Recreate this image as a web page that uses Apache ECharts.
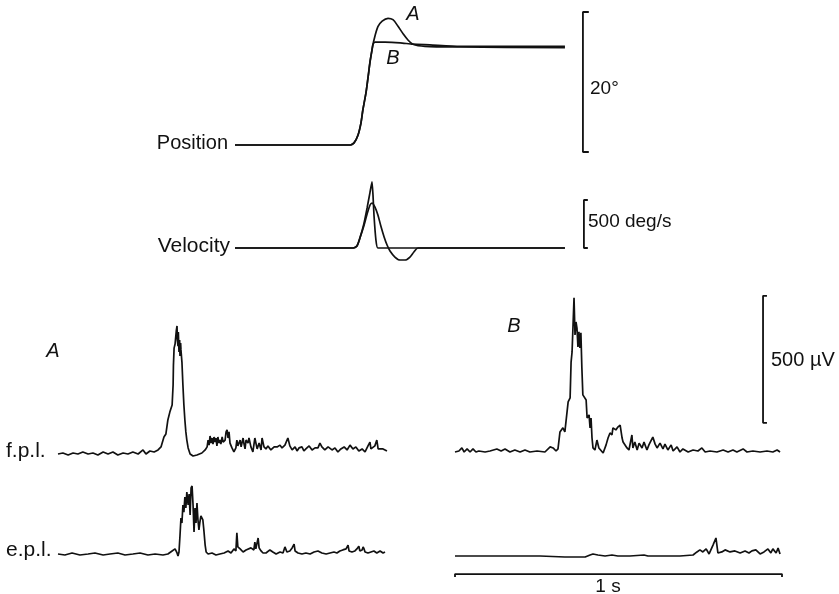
<!DOCTYPE html>
<html>
<head>
<meta charset="utf-8">
<script src="https://cdn.jsdelivr.net/npm/echarts@6/dist/echarts.min.js"></script>
<style>
  html, body { margin: 0; padding: 0; background: #fff; }
  #chart { width: 839px; height: 594px; }
</style>
</head>
<body>
<div id="chart"></div>
<script>
// Thumb movement (position, velocity) and rectified EMG of flexor (f.p.l.)
// and extensor (e.p.l.) pollicis longus for two movements, A and B.
// Time in ms from start of each sweep; angles in degrees; EMG in µV.

const positionA = [[0,0],[352,0],[364,0.3],[376,1.4],[385,3.1],[391,5],[401,7.6],[407,9.7],[413,11.9],[419,13.6],[425,15],[437,16.9],[450,17.7],[468,18.1],[483,17.9],[498,17],[514,15.9],[529,15],[544,14.4],[581,14.1],[688,14],[1009,13.9]];
const positionB = [[0,0],[352,0],[364,0.3],[376,1.4],[385,3.1],[391,5],[401,7.6],[407,9.7],[413,11.9],[419,13.6],[422,14.4],[428,14.7],[459,14.7],[505,14.6],[544,14.4],[596,14.3],[688,14.1],[1009,14.1]];

const velocityA = [[0,0],[361,0],[373,21],[382,104],[394,229],[404,354],[413,448],[419,469],[428,427],[437,344],[446,229],[456,115],[465,31],[474,-31],[489,-94],[505,-125],[520,-125],[535,-94],[547,-42],[560,0],[1009,0]];
const velocityB = [[0,0],[361,0],[373,21],[382,104],[394,250],[404,417],[413,583],[419,688],[422,552],[425,344],[431,83],[437,0],[1009,0]];

const fplA = [[0,-4],[15,0],[31,-8],[46,0],[61,-4],[76,4],[92,-4],[107,0],[122,-8],[138,4],[153,-4],[168,4],[183,-8],[199,0],[214,-4],[229,4],[245,-4],[260,12],[269,-4],[281,8],[294,4],[306,12],[315,24],[324,63],[330,75],[336,130],[342,161],[349,189],[352,268],[353,346],[355,413],[358,429],[361,425],[362,484],[364,500],[365,445],[367,421],[368,476],[370,398],[372,445],[373,382],[375,433],[376,406],[379,358],[382,268],[385,189],[388,130],[391,83],[394,51],[398,20],[404,-4],[413,-12],[425,-8],[440,0],[450,12],[456,24],[459,51],[462,31],[465,67],[468,39],[471,59],[474,35],[477,63],[480,43],[483,59],[486,28],[489,63],[492,39],[495,51],[498,35],[502,63],[505,43],[511,51],[514,83],[517,91],[520,59],[523,83],[526,39],[532,20],[538,4],[544,20],[547,51],[550,28],[557,51],[560,24],[566,59],[569,35],[572,16],[575,51],[581,39],[584,59],[590,24],[596,4],[602,59],[609,16],[615,39],[621,12],[624,59],[630,24],[636,16],[642,28],[651,12],[661,24],[670,24],[679,31],[685,20],[694,31],[703,59],[709,28],[716,12],[725,24],[731,8],[737,20],[746,24],[752,8],[758,16],[768,28],[777,12],[786,20],[795,20],[801,39],[807,24],[816,12],[826,24],[832,31],[838,12],[847,20],[856,4],[865,16],[875,24],[884,12],[893,31],[902,16],[911,24],[920,8],[930,16],[939,4],[948,28],[954,43],[957,16],[963,12],[969,28],[975,51],[979,16],[985,12],[994,16],[1006,8]];

const eplA = [[0,0],[21,-4],[43,4],[67,-4],[92,0],[113,4],[138,-4],[159,0],[183,4],[205,-4],[229,0],[251,4],[275,-4],[297,0],[321,-4],[336,0],[349,12],[358,20],[364,4],[367,-8],[370,8],[373,71],[376,142],[379,122],[382,193],[385,165],[388,224],[391,181],[394,244],[398,193],[401,236],[404,154],[407,260],[410,268],[413,193],[416,87],[419,181],[422,122],[425,201],[428,134],[431,95],[434,126],[437,150],[440,142],[443,134],[446,95],[450,35],[453,8],[459,0],[471,4],[483,-4],[495,0],[508,4],[520,12],[529,4],[538,20],[544,12],[547,83],[550,28],[557,20],[566,8],[575,16],[581,12],[590,24],[596,31],[599,16],[602,47],[605,20],[612,63],[615,24],[621,12],[627,4],[636,4],[648,16],[657,8],[667,0],[679,8],[688,4],[694,28],[700,8],[709,12],[716,24],[722,39],[725,12],[734,4],[746,0],[758,4],[771,0],[783,8],[795,12],[807,4],[820,0],[832,4],[844,8],[853,4],[862,12],[871,16],[881,20],[887,35],[890,12],[899,8],[908,12],[914,20],[920,31],[923,12],[930,16],[933,28],[936,20],[939,8],[948,4],[957,8],[966,12],[975,4],[985,12],[994,4],[1000,8]];

const fplB = [[0,0],[12,4],[21,16],[28,0],[37,12],[46,0],[55,12],[64,0],[73,4],[92,0],[107,4],[128,12],[141,4],[153,12],[168,0],[183,8],[199,0],[214,8],[229,0],[251,4],[275,0],[291,20],[300,16],[309,4],[315,12],[321,79],[330,95],[336,79],[346,197],[352,213],[355,354],[358,394],[361,500],[364,607],[367,461],[370,512],[373,488],[376,414],[379,473],[382,410],[385,469],[388,331],[391,225],[401,205],[404,134],[410,146],[413,95],[416,134],[419,55],[422,16],[428,8],[434,47],[440,16],[453,-4],[462,28],[468,55],[474,75],[480,67],[483,95],[492,87],[498,98],[505,106],[511,55],[514,39],[526,16],[532,8],[541,67],[544,16],[550,39],[557,8],[563,35],[572,16],[578,39],[587,8],[593,28],[605,59],[612,31],[618,16],[627,35],[636,12],[642,31],[651,8],[661,28],[667,4],[679,20],[688,0],[697,12],[713,0],[728,8],[743,4],[755,16],[765,0],[780,4],[801,0],[820,8],[835,0],[850,8],[862,0],[881,12],[893,0],[911,4],[933,0],[954,4],[972,0],[985,8],[994,0]];

const eplB = [[0,0],[76,0],[168,0],[260,0],[336,-4],[367,-4],[398,-4],[413,4],[422,8],[437,4],[459,0],[480,4],[498,0],[535,0],[578,4],[590,0],[642,0],[688,0],[728,4],[740,16],[749,24],[758,16],[768,28],[777,8],[789,43],[798,71],[804,12],[816,16],[826,24],[841,16],[856,20],[872,12],[887,20],[899,12],[908,20],[920,24],[933,8],[945,16],[957,28],[966,12],[972,28],[982,12],[988,31],[994,8]];

// Calibration bars: value and printed label
const scaleValues = [20, 500, 500, 1000];
const scaleLabels = ['20°', '500 deg/s', '500 µV', '1 s'];

// Trace and panel labels
const traceLabels = ['Position', 'Velocity', 'f.p.l.', 'e.p.l.'];
const movementLabels = ['A', 'B'];

const INK = '#111111';
const FONT = '"Liberation Sans", Arial, Helvetica, sans-serif';
const PX_PER_MS = 0.327;
const PX_PER_UV = 0.254;

// grid helper: x origin (t = 0) in pixels, baseline (value 0) in pixels, y scale, y range
function makeGrid(x0, base, pxPerUnit, ymin, ymax) {
  const xmin = -100, xmax = 1100;
  return {
    grid: {
      left: x0 + xmin * PX_PER_MS,
      width: (xmax - xmin) * PX_PER_MS,
      top: base - ymax * pxPerUnit,
      height: (ymax - ymin) * pxPerUnit
    },
    x: { min: xmin, max: xmax },
    y: { min: ymin, max: ymax }
  };
}

const panels = [
  makeGrid(235, 145, 7, -2, 20),            // position (deg)
  makeGrid(235, 248, 0.096, -200, 800),     // velocity (deg/s)
  makeGrid(58, 453, PX_PER_UV, -50, 650),   // A f.p.l.
  makeGrid(58, 554, PX_PER_UV, -50, 350),   // A e.p.l.
  makeGrid(455, 452, PX_PER_UV, -50, 650),  // B f.p.l.
  makeGrid(455, 556, PX_PER_UV, -120, 350)  // B e.p.l.
];

function trace(idx, data, width, smooth) {
  return {
    type: 'line', xAxisIndex: idx, yAxisIndex: idx, data: data,
    showSymbol: false, symbol: 'none', smooth: smooth || false,
    lineStyle: { color: INK, width: width || 1.7 },
    silent: true, animation: false, clip: false
  };
}

// vertical calibration bracket with serifs pointing right
function vBar(idx, x, y0, len, serif) {
  return trace(idx, [[x + serif, y0 + len], [x, y0 + len], [x, y0], [x + serif, y0]], 1.8);
}
// horizontal time bracket with ends bent down
function hBar(idx, x0, len, y, drop) {
  return trace(idx, [[x0, y - drop], [x0, y], [x0 + len, y], [x0 + len, y - drop]], 1.8);
}

const series = [
  trace(0, positionB, 1.7, 0.2),
  trace(0, positionA, 1.7, 0.3),
  trace(1, velocityB, 1.7, 0.15),
  trace(1, velocityA, 1.7, 0.3),
  trace(2, fplA, 1.7),
  trace(3, eplA, 1.7),
  trace(4, fplB, 1.7),
  trace(5, eplB, 1.7),
  vBar(0, 1064, -1, scaleValues[0], 18),
  vBar(1, 1067, 0, scaleValues[1], 12),
  vBar(4, 942, 115, scaleValues[2], 12),
  hBar(5, 0, scaleValues[3], -71, 12)
];

function text(str, x, y, align, size, italic) {
  return {
    type: 'text', x: x, y: y, silent: true,
    style: {
      text: str, fill: INK,
      font: (italic ? 'italic ' : '') + size + 'px ' + FONT,
      align: align, verticalAlign: 'middle',
      textAlign: align, textVerticalAlign: 'middle'
    }
  };
}

const graphics = [
  text(traceLabels[0], 228, 143, 'right', 20),
  text(traceLabels[1], 230, 246, 'right', 21),
  text(traceLabels[2], 6, 451, 'left', 21),
  text(traceLabels[3], 6, 550, 'left', 21),
  text(scaleLabels[0], 590, 89, 'left', 19),
  text(scaleLabels[1], 588, 222, 'left', 19),
  text(scaleLabels[2], 771, 360, 'left', 20),
  text(scaleLabels[3], 608, 587, 'center', 19),
  text(movementLabels[0], 413, 14, 'center', 20, true),
  text(movementLabels[1], 393, 58, 'center', 20, true),
  text(movementLabels[0], 53, 351, 'center', 20, true),
  text(movementLabels[1], 514, 326, 'center', 20, true)
];

const chart = echarts.init(document.getElementById('chart'), null, { renderer: 'canvas' });
chart.setOption({
  backgroundColor: '#ffffff',
  animation: false,
  grid: panels.map(p => Object.assign({ containLabel: false, show: false }, p.grid)),
  xAxis: panels.map((p, i) => ({
    type: 'value', gridIndex: i, min: p.x.min, max: p.x.max, show: false,
    splitLine: { show: false }
  })),
  yAxis: panels.map((p, i) => ({
    type: 'value', gridIndex: i, min: p.y.min, max: p.y.max, show: false,
    splitLine: { show: false }
  })),
  series: series,
  graphic: graphics
});
</script>
</body>
</html>
